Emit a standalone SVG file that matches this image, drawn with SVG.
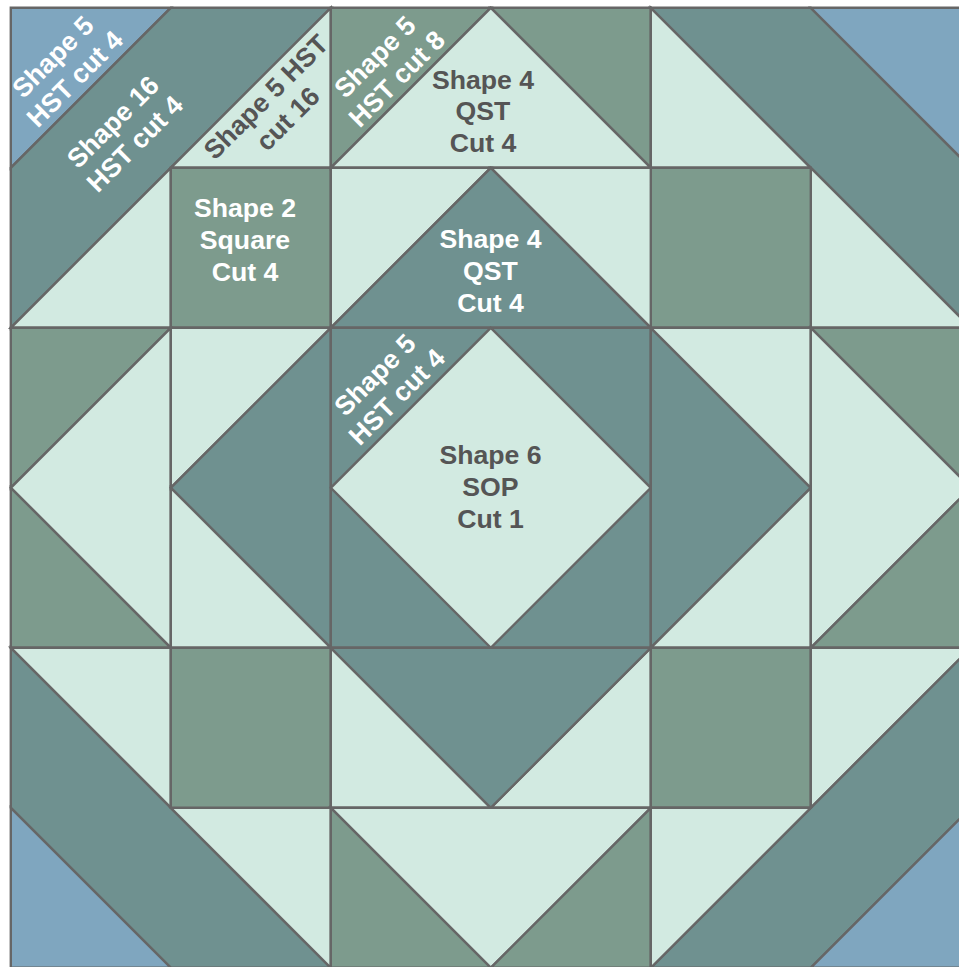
<svg xmlns="http://www.w3.org/2000/svg" width="959" height="967" viewBox="0 0 959 967">
<style>
polygon{stroke:#666;stroke-width:2.4;stroke-linejoin:miter}
.l{fill:#D2EAE1}.t{fill:#6F9190}.g{fill:#7D9B8D}.b{fill:#7FA6BF}
text{font-family:"Liberation Sans",Arial,sans-serif;font-weight:700;font-size:26.67px;text-anchor:middle}
.w{fill:#fff}.d{fill:#555}
</style>
<rect width="959" height="967" fill="#fff"/>
<g id="quilt" transform="translate(0.8 0.3)">
<polygon class="b" points="10,7.5 170,7.5 10,167.5"/>
<polygon class="t" points="170,7.5 330,7.5 10,327.5 10,167.5"/>
<polygon class="l" points="330,7.5 330,167.5 170,167.5"/>
<polygon class="l" points="170,167.5 170,327.5 10,327.5"/>
<polygon class="g" points="170,167.5 330,167.5 330,327.5 170,327.5"/>
<polygon class="g" points="330,7.5 490,7.5 330,167.5"/>
<polygon class="g" points="490,7.5 650,7.5 650,167.5"/>
<polygon class="l" points="490,7.5 650,167.5 330,167.5"/>
<polygon class="l" points="650,7.5 810,167.5 650,167.5"/>
<polygon class="t" points="650,7.5 810,7.5 970,167.5 970,327.5"/>
<polygon class="b" points="810,7.5 970,7.5 970,167.5"/>
<polygon class="l" points="810,167.5 970,327.5 810,327.5"/>
<polygon class="g" points="650,167.5 810,167.5 810,327.5 650,327.5"/>
<polygon class="l" points="330,167.5 490,167.5 330,327.5"/>
<polygon class="l" points="490,167.5 650,167.5 650,327.5"/>
<polygon class="t" points="490,167.5 650,327.5 330,327.5"/>
<polygon class="g" points="10,327.5 170,327.5 10,487.5"/>
<polygon class="l" points="170,327.5 170,647.5 10,487.5"/>
<polygon class="g" points="10,487.5 170,647.5 10,647.5"/>
<polygon class="l" points="170,327.5 330,327.5 170,487.5"/>
<polygon class="t" points="330,327.5 330,647.5 170,487.5"/>
<polygon class="l" points="170,487.5 330,647.5 170,647.5"/>
<polygon class="t" points="330,327.5 650,327.5 650,647.5 330,647.5"/>
<polygon class="l" points="490,327.5 650,487.5 490,647.5 330,487.5"/>
<polygon class="t" points="650,327.5 810,487.5 650,647.5"/>
<polygon class="l" points="650,327.5 810,327.5 810,487.5"/>
<polygon class="l" points="810,487.5 810,647.5 650,647.5"/>
<polygon class="g" points="810,327.5 970,327.5 970,487.5"/>
<polygon class="l" points="810,327.5 970,487.5 810,647.5"/>
<polygon class="g" points="970,487.5 970,647.5 810,647.5"/>
<polygon class="l" points="10,647.5 170,647.5 170,807.5"/>
<polygon class="t" points="10,647.5 170,807.5 330,967.5 170,967.5 10,807.5"/>
<polygon class="b" points="10,807.5 170,967.5 10,967.5"/>
<polygon class="l" points="170,807.5 330,807.5 330,967.5"/>
<polygon class="g" points="170,647.5 330,647.5 330,807.5 170,807.5"/>
<polygon class="l" points="330,647.5 490,807.5 330,807.5"/>
<polygon class="l" points="650,647.5 650,807.5 490,807.5"/>
<polygon class="t" points="330,647.5 650,647.5 490,807.5"/>
<polygon class="l" points="330,807.5 650,807.5 490,967.5"/>
<polygon class="g" points="330,807.5 490,967.5 330,967.5"/>
<polygon class="g" points="650,807.5 650,967.5 490,967.5"/>
<polygon class="g" points="650,647.5 810,647.5 810,807.5 650,807.5"/>
<polygon class="l" points="810,647.5 970,647.5 810,807.5"/>
<polygon class="t" points="970,647.5 970,807.5 810,967.5 650,967.5 810,807.5"/>
<polygon class="b" points="970,807.5 970,967.5 810,967.5"/>
<polygon class="l" points="650,807.5 810,807.5 650,967.5"/>
</g>
<g id="labels">
<text class="w" transform="translate(64 68) rotate(-45)"><tspan x="0" y="-6.500">Shape 5</tspan><tspan x="0" y="24.500">HST cut 4</tspan></text>
<text class="w" transform="translate(124 133) rotate(-45)"><tspan x="0" y="-6.500">Shape 16</tspan><tspan x="0" y="24.500">HST cut 4</tspan></text>
<text class="d" transform="translate(277 108) rotate(-45)"><tspan x="0" y="-6.500">Shape 5 HST</tspan><tspan x="0" y="24.500">cut 16</tspan></text>
<text class="w" transform="translate(386 68) rotate(-45)"><tspan x="0" y="-6.500">Shape 5</tspan><tspan x="0" y="24.500">HST cut 8</tspan></text>
<text class="w" transform="translate(386 386) rotate(-45)"><tspan x="0" y="-6.500">Shape 5</tspan><tspan x="0" y="24.500">HST cut 4</tspan></text>
<text class="d"><tspan x="483" y="88.500">Shape 4</tspan><tspan x="483" y="120">QST</tspan><tspan x="483" y="152">Cut 4</tspan></text>
<text class="w"><tspan x="490.500" y="248">Shape 4</tspan><tspan x="490.500" y="280">QST</tspan><tspan x="490.500" y="312">Cut 4</tspan></text>
<text class="d"><tspan x="490.500" y="464">Shape 6</tspan><tspan x="490.500" y="496">SOP</tspan><tspan x="490.500" y="528">Cut 1</tspan></text>
<text class="w"><tspan x="245" y="217">Shape 2</tspan><tspan x="245" y="249">Square</tspan><tspan x="245" y="281">Cut 4</tspan></text>
</g>
</svg>
